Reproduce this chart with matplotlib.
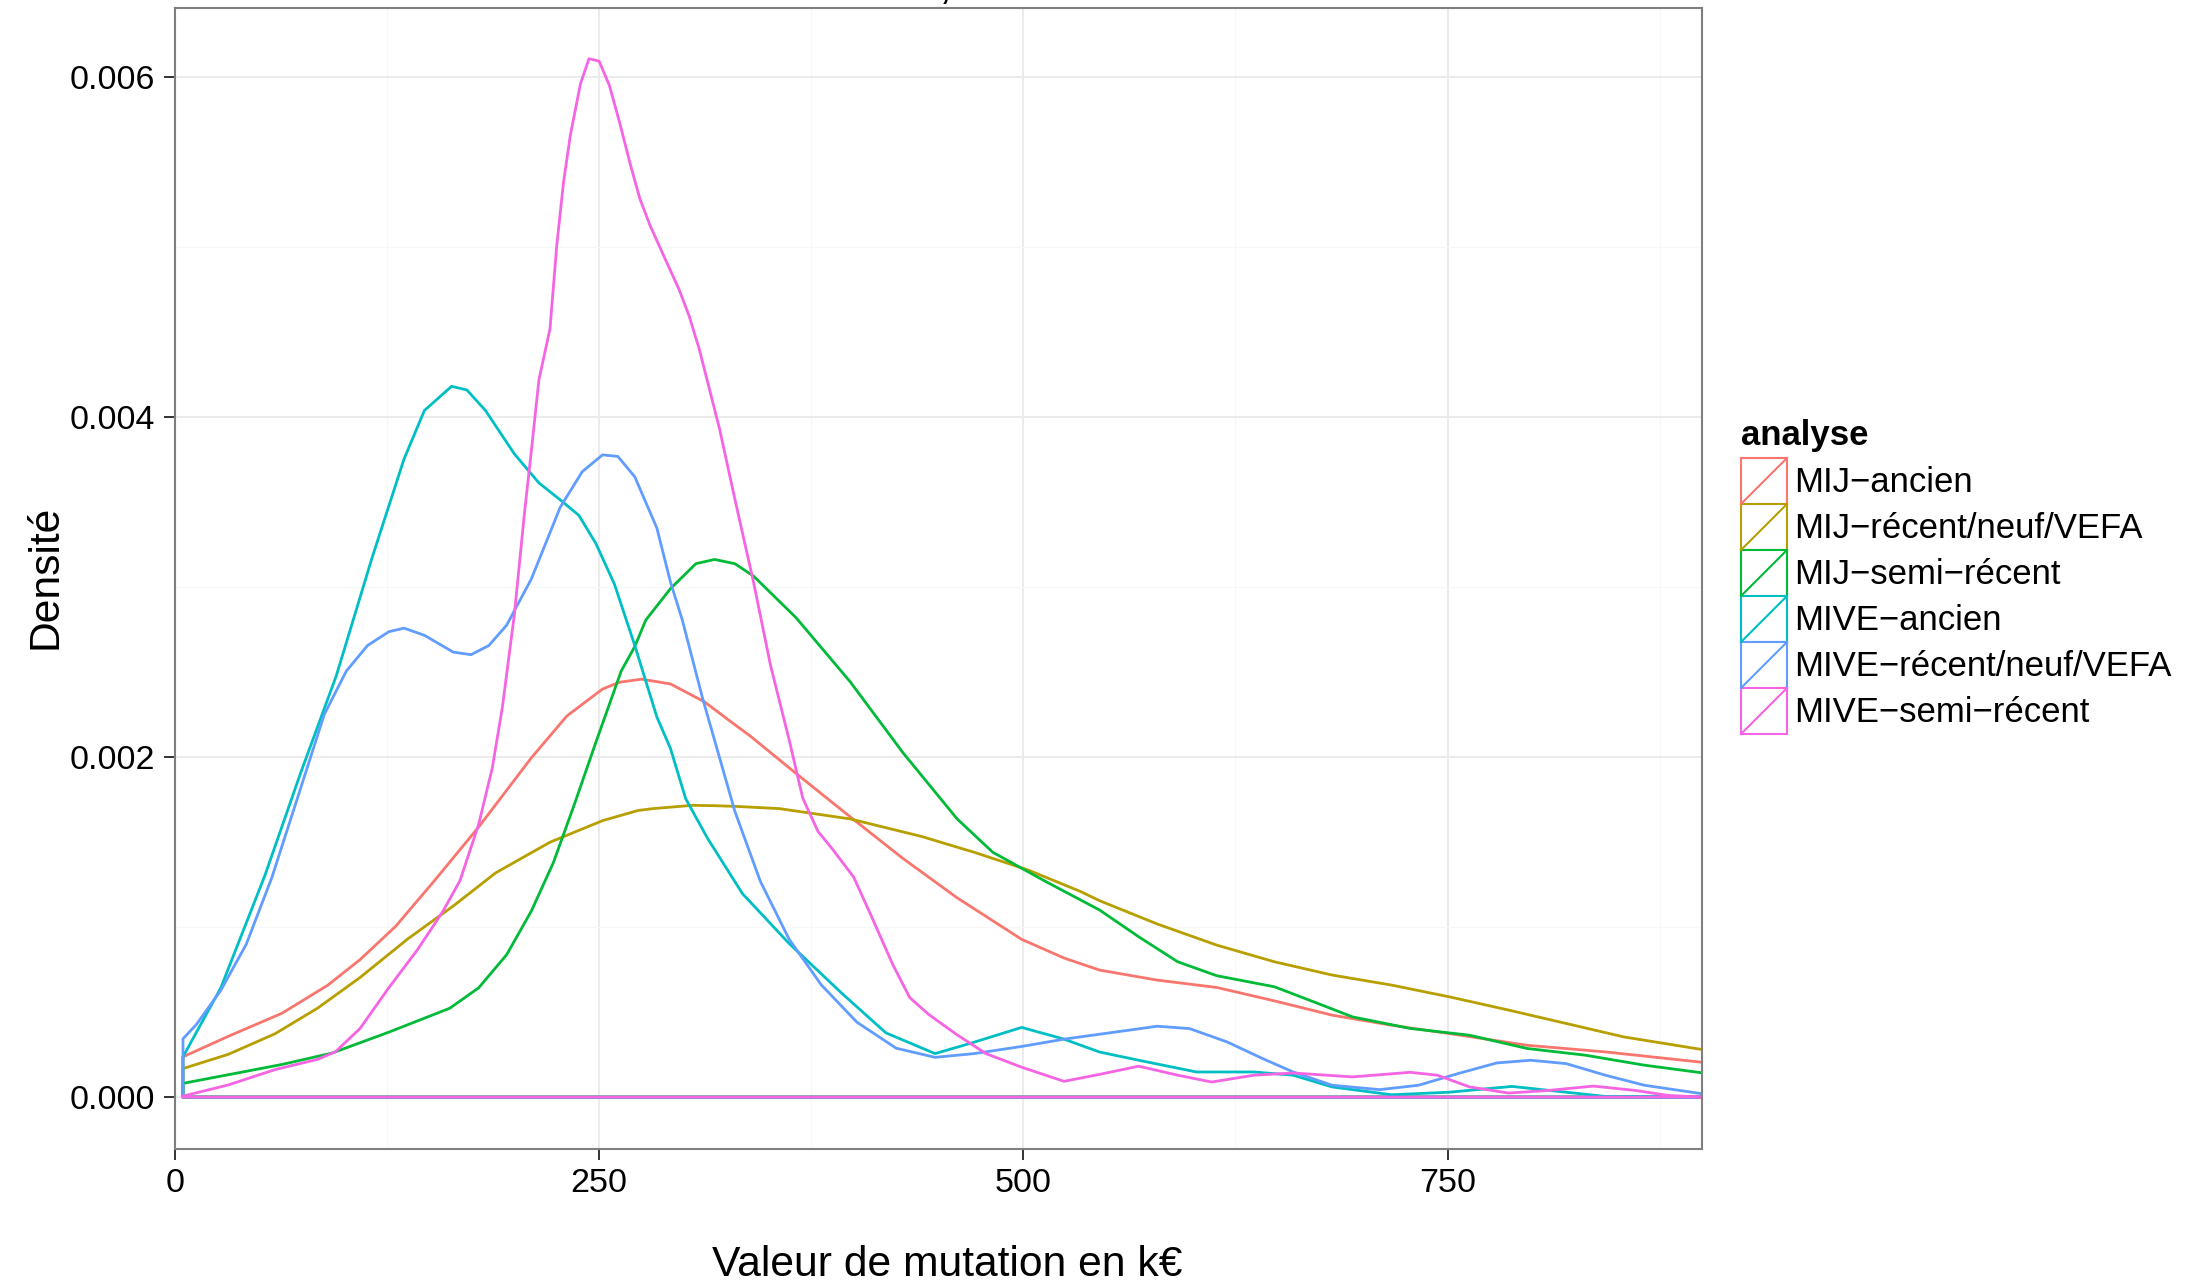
import numpy as np
import matplotlib.pyplot as plt
from matplotlib.patches import Rectangle
from matplotlib.ticker import FormatStrFormatter, MultipleLocator

plt.rcParams['font.family'] = ['Liberation Sans', 'DejaVu Sans']

# density curves: (valeur k€, densité in 1e-3)
mij_ancien = [(4.7, 0.237), (31.5, 0.358), (63, 0.493), (90, 0.658), (109, 0.808), (130, 1.004),
              (153, 1.274), (179, 1.589), (210, 1.995), (231, 2.242), (252, 2.40), (262, 2.44),
              (275, 2.458), (292, 2.43), (312, 2.325), (330, 2.19), (339, 2.124), (366, 1.904),
              (398, 1.648), (429, 1.404), (461, 1.172), (499, 0.928), (524, 0.818), (545, 0.747),
              (579, 0.688), (614, 0.645), (648, 0.566), (682, 0.482), (717, 0.423), (751, 0.374),
              (797, 0.305), (843, 0.266), (900, 0.205)]

mij_recent = [(4.7, 0.168), (31.5, 0.252), (59, 0.373), (84, 0.523), (109, 0.703), (137, 0.929),
              (164, 1.124), (189, 1.319), (221, 1.499), (252, 1.626), (273, 1.686), (282, 1.697),
              (305, 1.716), (318, 1.714), (330, 1.71), (356, 1.697), (398, 1.636), (440, 1.533),
              (471, 1.44), (503, 1.335), (534, 1.208), (545, 1.155), (579, 1.018), (614, 0.894),
              (648, 0.796), (682, 0.718), (717, 0.659), (751, 0.590), (786, 0.512), (820, 0.433),
              (854, 0.354), (900, 0.280)]

mij_semi = [(4.7, 0.081), (31.5, 0.132), (63, 0.192), (92.5, 0.259), (126, 0.382), (162, 0.523),
            (179, 0.643), (195.5, 0.838), (210, 1.094), (223, 1.379), (235.5, 1.725), (248, 2.085),
            (263, 2.506), (271, 2.65), (277.5, 2.806), (292, 2.99), (307, 3.137), (318, 3.162),
            (330, 3.137), (341, 3.064), (366, 2.820), (398, 2.442), (429, 2.026), (461, 1.636),
            (482, 1.44), (513, 1.269), (545, 1.10), (568, 0.943), (591, 0.796), (614, 0.714),
            (648, 0.649), (671, 0.561), (694, 0.472), (728, 0.404), (763, 0.364), (797, 0.286),
            (831, 0.247), (866, 0.188), (900, 0.143)]

mive_ancien = [(4.7, 0.237), (27, 0.643), (53, 1.304), (74, 1.905), (95, 2.476), (116, 3.167),
               (135, 3.753), (147, 4.038), (163, 4.18), (172, 4.159), (183, 4.038), (200, 3.783),
               (214.5, 3.612), (227, 3.513), (238, 3.422), (248, 3.257), (259, 3.017), (271, 2.656),
               (284, 2.236), (292, 2.051), (301, 1.755), (314, 1.52), (334.5, 1.196), (362, 0.903),
               (393, 0.611), (419, 0.378), (448, 0.256), (469, 0.317), (499, 0.410), (524, 0.341),
               (545, 0.265), (568, 0.217), (602, 0.148), (636, 0.148), (659, 0.129), (682, 0.060),
               (717, 0.014), (751, 0.029), (788, 0.063), (820, 0.029), (843, 0.004), (900, 0.0)]

mive_recent = [(4.7, 0.343), (12.6, 0.427), (27, 0.628), (42, 0.899), (57, 1.289), (74, 1.815),
               (88, 2.251), (101, 2.506), (113.5, 2.656), (126, 2.737), (135, 2.758), (147, 2.716),
               (164, 2.617), (174.5, 2.602), (185, 2.656), (195.5, 2.776), (210, 3.047), (227, 3.468),
               (240, 3.678), (252, 3.777), (261, 3.768), (271, 3.648), (284, 3.347), (292, 3.03),
               (299, 2.806), (311, 2.344), (330, 1.68), (345, 1.269), (362, 0.928), (381, 0.659),
               (402, 0.440), (425, 0.288), (448, 0.234), (471, 0.256), (499, 0.298), (524, 0.341),
               (545, 0.37), (579, 0.417), (598, 0.403), (620, 0.325), (641, 0.227), (659, 0.148),
               (682, 0.070), (710, 0.044), (733, 0.070), (756, 0.138), (779, 0.201), (799, 0.217),
               (820, 0.197), (843, 0.129), (866, 0.070), (900, 0.020)]

mive_semi = [(4.7, 0.006), (31.5, 0.072), (59, 0.162), (84, 0.222), (94.6, 0.267), (109, 0.403),
             (126, 0.643), (143, 0.868), (158, 1.094), (168, 1.274), (179, 1.605), (187, 1.935),
             (193, 2.296), (200, 2.837), (206, 3.437), (210, 3.798), (214.5, 4.219), (221, 4.517),
             (225, 5.008), (229, 5.381), (233, 5.656), (239, 5.960), (244, 6.107), (250, 6.092),
             (256, 5.950), (262, 5.734), (268, 5.499), (274, 5.283), (280, 5.126), (288, 4.949),
             (297, 4.752), (303, 4.595), (309, 4.399), (315, 4.163), (321, 3.928), (330, 3.516),
             (341, 3.028), (351, 2.539), (362, 2.100), (370, 1.758), (379, 1.562), (387, 1.465),
             (400, 1.294), (410, 1.074), (423, 0.781), (433, 0.586), (444, 0.488), (461, 0.366),
             (478, 0.256), (499, 0.176), (524, 0.093), (545, 0.134), (568, 0.182), (591, 0.129),
             (611, 0.089), (636, 0.129), (659, 0.142), (694, 0.119), (728, 0.146), (744, 0.129),
             (763, 0.060), (786, 0.024), (809, 0.039), (836, 0.065), (861, 0.039), (880, 0.010),
             (900, 0.0)]

labels = ['MIJ\u2212ancien', 'MIJ\u2212récent/neuf/VEFA', 'MIJ\u2212semi\u2212récent',
          'MIVE\u2212ancien', 'MIVE\u2212récent/neuf/VEFA', 'MIVE\u2212semi\u2212récent']
series = [mij_ancien, mij_recent, mij_semi, mive_ancien, mive_recent, mive_semi]
colors = ['#F8766D', '#B79F00', '#00BA38', '#00BFC4', '#619CFF', '#F564E3']

W, H = 2191, 1284
fig = plt.figure(figsize=(W / 100, H / 100), dpi=100)
ax = fig.add_axes([175 / W, 1 - 1149 / H, (1702 - 175) / W, (1149 - 8) / H])

XMAX = 900
for pts, col in zip(series, colors):
    x = np.array([p[0] for p in pts])
    y = np.array([p[1] for p in pts]) * 1e-3
    # outline of the density polygon: baseline, left edge, curve
    ax.plot(np.r_[XMAX, x[0], x], np.r_[0, 0, y], color=col, lw=2.0,
            solid_joinstyle='round', zorder=3)

ax.set_xlim(0, XMAX)
ax.set_ylim(-0.000305, 0.006405)
ax.xaxis.set_major_locator(MultipleLocator(250))
ax.xaxis.set_minor_locator(MultipleLocator(125))
ax.yaxis.set_major_locator(MultipleLocator(0.002))
ax.yaxis.set_minor_locator(MultipleLocator(0.001))
ax.yaxis.set_major_formatter(FormatStrFormatter('%.3f'))
ax.grid(which='major', color='#EBEBEB', lw=1.4, zorder=0)
ax.grid(which='minor', color='#F7F7F7', lw=0.8, zorder=0)
ax.set_axisbelow(True)
ax.tick_params(which='major', length=8, width=1.4, color='#333333',
               labelsize=24.5, labelcolor='black')
ax.tick_params(axis='x', pad=5.5)
ax.tick_params(axis='y', pad=6.5)
ax.tick_params(which='minor', length=0)
for s in ax.spines.values():
    s.set_color('#7F7F7F')
    s.set_linewidth(1.5)
    s.set_zorder(5)

fig.text(947 / W, 1 - 1265 / H, 'Valeur de mutation en k€', fontsize=30.7,
         ha='center', va='center')
fig.text(46 / W, 1 - 577 / H, 'Densité', fontsize=30.7, rotation=90,
         ha='center', va='center')
# title of the original sits above the frame; only its comma shows
fig.text(945 / W, 1 + 2 / H, ',', fontsize=34, ha='center', va='baseline')

# legend drawn in pixel coordinates
lax = fig.add_axes([0, 0, 1, 1])
lax.set_xlim(0, W)
lax.set_ylim(H, 0)
lax.axis('off')
lax.text(1741, 436, 'analyse', fontsize=25, fontweight='bold', ha='left', va='center')
key = 46
top = 458
for i, (lab, col) in enumerate(zip(labels, colors)):
    y0 = top + i * key
    lax.add_patch(Rectangle((1741, y0), key, key, facecolor='white',
                            edgecolor=col, lw=1.5))
    lax.plot([1741, 1741 + key], [y0 + key, y0], color=col, lw=1.5)
    lax.text(1794, y0 + key / 2 + 1, lab, fontsize=25, ha='left', va='center')

fig.savefig('out.png', dpi=100)
